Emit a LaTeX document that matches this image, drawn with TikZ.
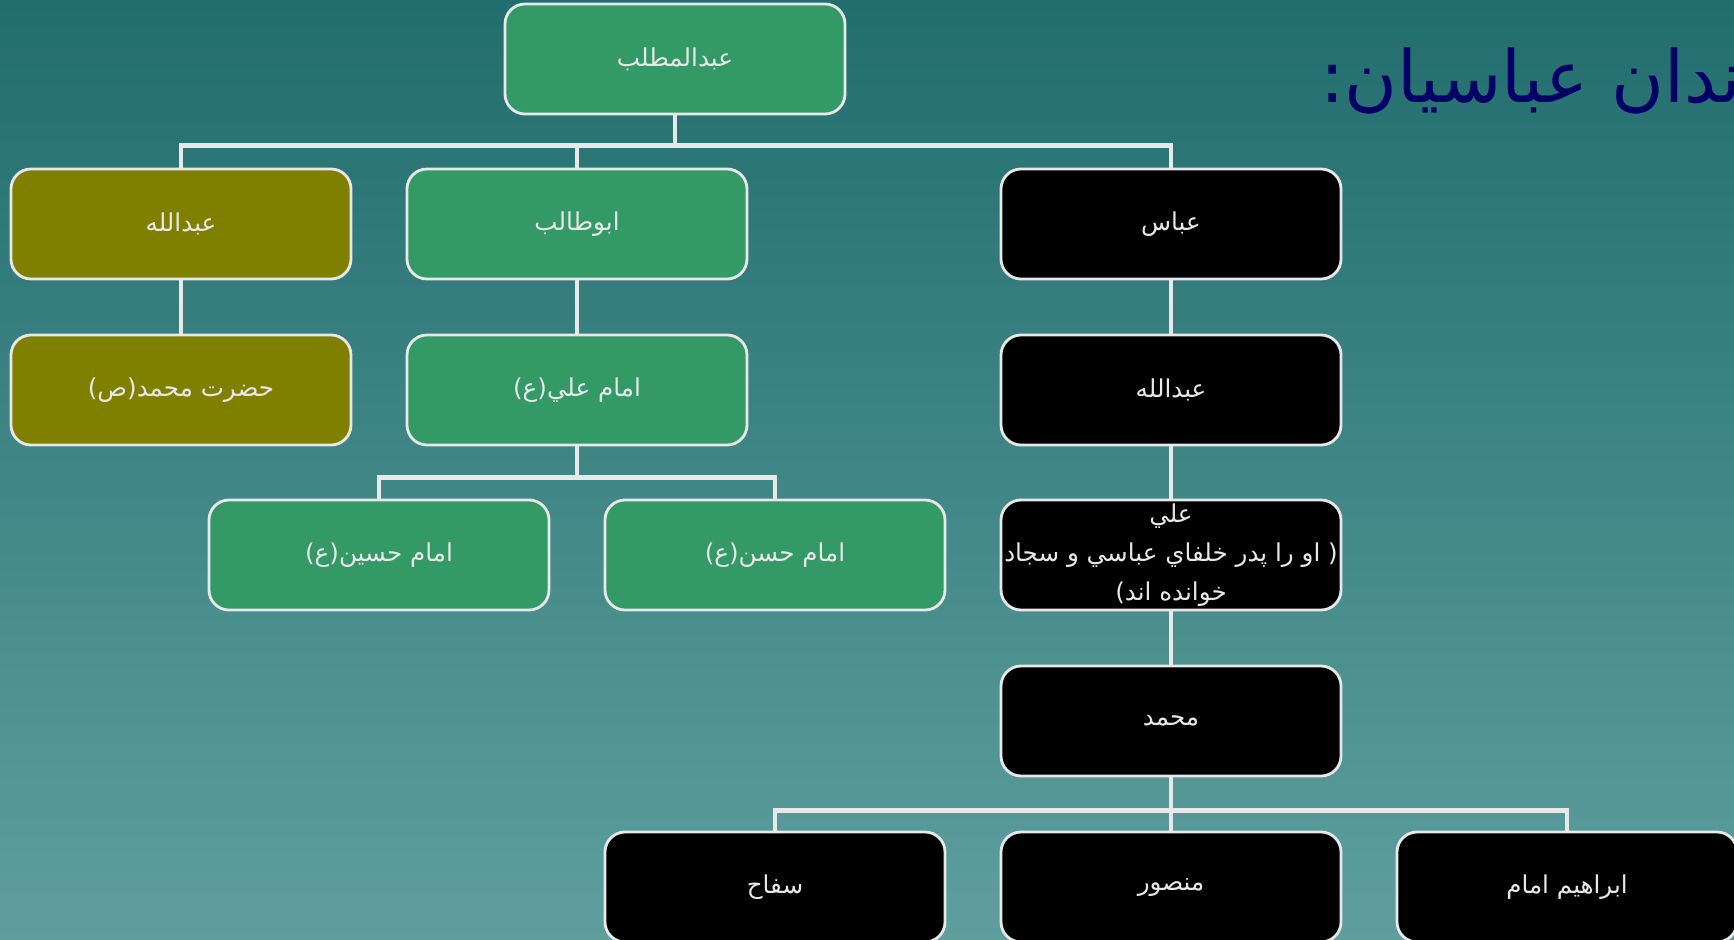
\documentclass[tikz,border=0pt]{standalone}
\usepackage{fontspec}
\usepackage{xcolor}
\usepackage{tikz}
\TeXXeTstate=1
\newfontfamily\arabicfont[Script=Arabic]{DejaVu Sans}
\definecolor{boxgreen}{RGB}{51,153,102}
\definecolor{boxolive}{RGB}{128,128,0}
\definecolor{linegray}{RGB}{232,232,232}
\definecolor{titleblue}{RGB}{0,0,102}
\definecolor{bgtop}{RGB}{34,109,110}
\definecolor{bgbottom}{RGB}{94,159,158}

\begin{document}
\begin{tikzpicture}[
    box/.style={draw=linegray, line width=1.6pt, rounded corners=0.4cm, minimum width=6.8cm, minimum height=2.2cm,
      inner sep=0pt, align=center, text=linegray, font=\arabicfont\fontsize{14}{22}\selectfont},
    greenbox/.style={box, fill=boxgreen},
    olivebox/.style={box, fill=boxolive},
    blackbox/.style={box, fill=black},
    link/.style={draw=linegray, line width=2.8pt}
  ]
          \fill[top color=bgtop, bottom color=bgbottom] (0,0) rectangle (34.68,-18.8);
          \clip (0,0) rectangle (34.68,-18.8);

          \node[anchor=base west, inner sep=0pt, text=titleblue, font=\arabicfont\fontsize{41}{50}\selectfont] (title) at (26.4,-2.05) {\beginR خاندان عباسيان:\endR};

          \foreach \x/\y/\s/\n/\t in {13.5/-1.18/greenbox/mottaleb/عبدالمطلب,
              3.62/-4.48/olivebox/abdullah/عبدالله, 11.54/-4.48/greenbox/abutaleb/ابوطالب, 23.42/-4.48/blackbox/abbas/عباس,
              3.62/-7.8/olivebox/mohammad/حضرت محمد(ص), 11.54/-7.8/greenbox/ali/امام علي(ع), 23.42/-7.8/blackbox/abdullahb/عبدالله,
              7.58/-11.1/greenbox/hossein/امام حسين(ع), 15.5/-11.1/greenbox/hasan/امام حسن(ع),
              23.42/-14.42/blackbox/mohammadb/محمد,
              15.5/-17.74/blackbox/saffah/سفاح, 23.42/-17.74/blackbox/mansur/منصور, 31.34/-17.74/blackbox/ibrahim/ابراهيم امام}{%
            \node[\s] (\n) at (\x,\y) {\beginR\t\endR};
          }
          \node[blackbox] (alib) at (23.42,-11.1) {\beginR علي\endR\\\beginR( او را پدر خلفاي عباسي و سجاد\endR\\\beginR خوانده اند)\endR};

          \draw[link] (mottaleb.south) -- ++(0,-0.6) -| (abdullah.north);
          \draw[link] (mottaleb.south) -- ++(0,-0.6) -| (abutaleb.north);
          \draw[link] (mottaleb.south) -- ++(0,-0.6) -| (abbas.north);
          \draw[link] (abdullah) -- (mohammad);
          \draw[link] (abutaleb) -- (ali);
          \draw[link] (ali.south) -- ++(0,-0.62) -| (hossein.north);
          \draw[link] (ali.south) -- ++(0,-0.62) -| (hasan.north);
          \draw[link] (abbas) -- (abdullahb);
          \draw[link] (abdullahb) -- (alib);
          \draw[link] (alib) -- (mohammadb);
          \draw[link] (mohammadb.south) -- ++(0,-0.66) -| (saffah.north);
          \draw[link] (mohammadb.south) -- ++(0,-0.66) -| (mansur.north);
          \draw[link] (mohammadb.south) -- ++(0,-0.66) -| (ibrahim.north);
        \end{tikzpicture}
\end{document}
